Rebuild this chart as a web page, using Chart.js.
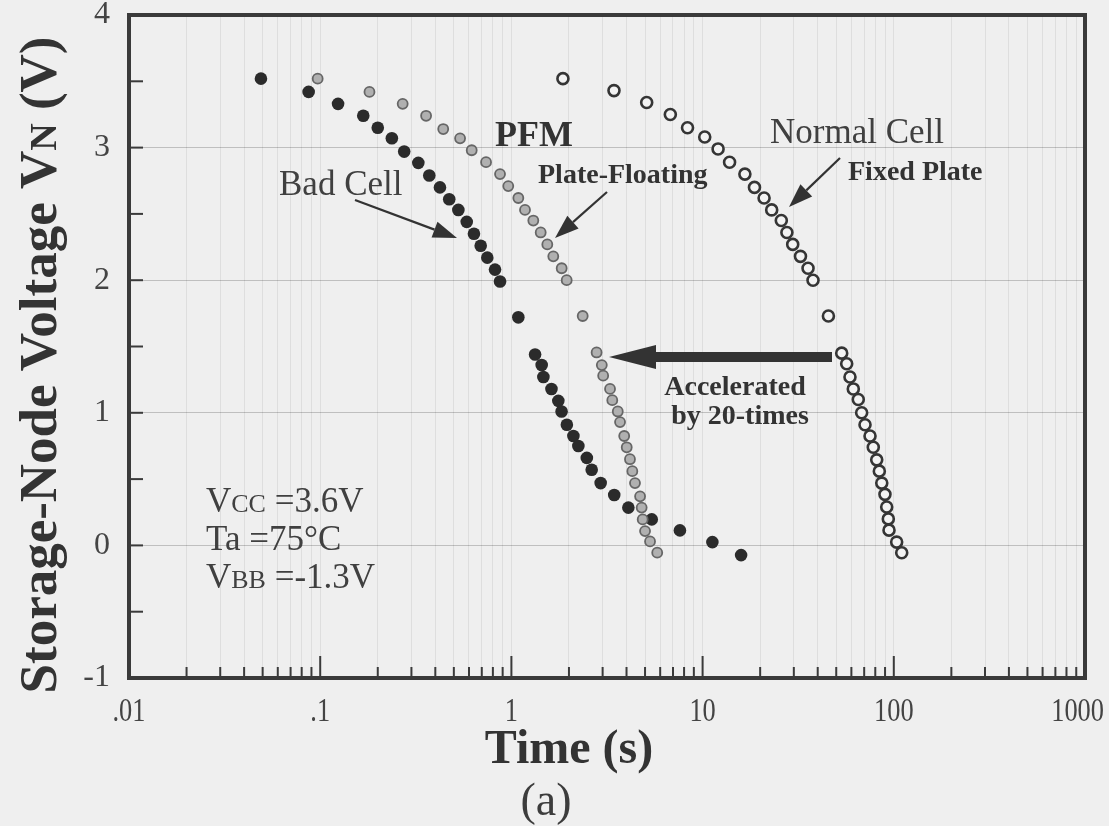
<!DOCTYPE html>
<html><head><meta charset="utf-8">
<script src="https://cdn.jsdelivr.net/npm/chart.js@4.4.1/dist/chart.umd.min.js"></script>
<style>html,body{margin:0;padding:0;background:#efefef;}canvas{display:block;}</style>
</head><body>
<canvas id="c" width="1109" height="826" style="width:1109px;height:826px"></canvas>
<script>
// ---- data (time in s, voltage in V) ----
const badTime = [0.049,0.087,0.124,0.168,0.200,0.237,0.275,0.326,0.372,0.423,0.473,0.528,0.584,0.637,0.691,0.748,0.821,0.872,1.087,
  1.33,1.44,1.47,1.62,1.76,1.83,1.95,2.11,2.24,2.48,2.63,2.93,3.45,4.09,5.42,7.61,11.25,15.9];
const badVolt = [3.52,3.42,3.33,3.24,3.15,3.07,2.97,2.885,2.79,2.70,2.61,2.53,2.44,2.35,2.26,2.17,2.08,1.99,1.72,
  1.44,1.36,1.27,1.18,1.09,1.01,0.91,0.825,0.75,0.66,0.57,0.47,0.38,0.285,0.196,0.113,0.025,-0.073];

const pfmTime = [0.097,0.181,0.270,0.358,0.440,0.539,0.620,0.737,0.872,0.963,1.087,1.178,1.302,1.423,1.541,1.656,1.832,1.946,2.36,
  2.79,2.97,3.02,3.28,3.37,3.60,3.70,3.89,4.01,4.17,4.29,4.43,4.71,4.80,4.86,5.00,5.31,5.79];
const pfmVolt = [3.52,3.42,3.33,3.24,3.14,3.07,2.98,2.89,2.80,2.71,2.62,2.53,2.45,2.36,2.27,2.18,2.09,2.00,1.73,
  1.455,1.36,1.28,1.18,1.095,1.01,0.93,0.825,0.74,0.65,0.56,0.47,0.37,0.285,0.196,0.108,0.03,-0.055];

const normalTime = [1.86,3.44,5.10,6.78,8.34,10.26,12.05,13.84,16.64,18.68,20.97,22.98,25.8,27.6,29.6,32.5,35.6,37.8,45.5,
  53.4,56.7,59.0,61.4,65.2,67.9,70.7,75.1,78.1,81.4,84.0,86.5,89.9,91.8,93.6,94.4,103.5,110.0];
const normalVolt = [3.52,3.43,3.34,3.25,3.15,3.08,2.99,2.89,2.80,2.70,2.62,2.53,2.45,2.36,2.27,2.18,2.09,2.00,1.73,
  1.45,1.37,1.27,1.18,1.10,1.00,0.91,0.825,0.74,0.645,0.56,0.47,0.385,0.29,0.20,0.115,0.025,-0.055];

const xTickValues = [0.01,0.1,1,10,100,1000];
const xTickLabels = ['.01','.1','1','10','100','1000'];
const yTickValues = [-1,0,1,2,3,4];
const yTickLabels = ['-1','0','1','2','3','4'];

const toPts = (xs, ys) => xs.map((x, i) => ({x, y: ys[i]}));
const SERIF = '"Liberation Serif","Times New Roman",serif';
const isDecade = v => Math.abs(Math.log10(v) - Math.round(Math.log10(v))) < 1e-6;

function arrow(ctx, x1, y1, x2, y2, hl, hw) {
  const ang = Math.atan2(y2 - y1, x2 - x1);
  const bx = x2 - hl * Math.cos(ang), by = y2 - hl * Math.sin(ang);
  ctx.beginPath(); ctx.moveTo(x1, y1); ctx.lineTo(bx, by); ctx.stroke();
  ctx.beginPath();
  ctx.moveTo(x2, y2);
  ctx.lineTo(bx + hw / 2 * Math.sin(ang), by - hw / 2 * Math.cos(ang));
  ctx.lineTo(bx - hw / 2 * Math.sin(ang), by + hw / 2 * Math.cos(ang));
  ctx.closePath(); ctx.fill();
}
function txt(ctx, s, x, y, size, bold, align) {
  ctx.font = (bold ? 'bold ' : '') + size + 'px ' + SERIF;
  ctx.textAlign = align || 'left';
  ctx.textBaseline = 'alphabetic';
  ctx.fillText(s, x, y);
}
function runs(ctx, parts, x, y, bold) {
  ctx.textAlign = 'left'; ctx.textBaseline = 'alphabetic';
  for (const [s, size] of parts) {
    ctx.font = (bold ? 'bold ' : '') + size + 'px ' + SERIF;
    ctx.fillText(s, x, y);
    x += ctx.measureText(s).width;
  }
  return x;
}
function runsWidth(ctx, parts, bold) {
  let w = 0;
  for (const [s, size] of parts) { ctx.font = (bold ? 'bold ' : '') + size + 'px ' + SERIF; w += ctx.measureText(s).width; }
  return w;
}

const bgPlugin = {
  id: 'bg',
  beforeDraw(chart) {
    const ctx = chart.ctx;
    ctx.save(); ctx.fillStyle = '#efefef'; ctx.fillRect(0, 0, chart.width, chart.height); ctx.restore();
  }
};

const decoPlugin = {
  id: 'deco',
  afterDraw(chart) {
    const {ctx, chartArea: a, scales: {x, y}} = chart;
    ctx.save();
    ctx.strokeStyle = '#3a3a3a'; ctx.fillStyle = '#3a3a3a';
    // inner tick marks
    ctx.lineWidth = 2;
    x.ticks.forEach(t => {
      const px = x.getPixelForValue(t.value);
      const len = isDecade(t.value) ? 22 : 11;
      ctx.beginPath(); ctx.moveTo(px, a.bottom); ctx.lineTo(px, a.bottom - len); ctx.stroke();
    });
    y.ticks.forEach(t => {
      const py = y.getPixelForValue(t.value);
      ctx.beginPath(); ctx.moveTo(a.left, py); ctx.lineTo(a.left + 14, py); ctx.stroke();
    });
    // frame
    ctx.lineWidth = 4;
    ctx.strokeRect(a.left, a.top, a.right - a.left, a.bottom - a.top);

    // x tick labels (narrow serif), positioned by the x scale
    ctx.fillStyle = '#444';
    ctx.font = '33px ' + SERIF;
    ctx.textAlign = 'center'; ctx.textBaseline = 'alphabetic';
    const sx = 0.8;
    xTickValues.forEach((v, i) => {
      const s = xTickLabels[i];
      const w = ctx.measureText(s).width * sx;
      const cx = Math.min(x.getPixelForValue(v), 1104 - w / 2);
      ctx.save(); ctx.translate(cx, 721); ctx.scale(sx, 1); ctx.fillText(s, 0, 0); ctx.restore();
    });

    // axis titles
    ctx.fillStyle = '#333';
    txt(ctx, 'Time (s)', (a.left + a.right) / 2 - 38, 763, 48, true, 'center');
    ctx.fillStyle = '#3c3c3c';
    txt(ctx, '(a)', 546, 815, 46, false, 'center');
    ctx.fillStyle = '#333';
    const yParts = [['Storage-Node Voltage V', 53], ['N', 38], [' (V)', 53]];
    const w = runsWidth(ctx, yParts, true);
    ctx.save();
    ctx.translate(56, 365);
    ctx.rotate(-Math.PI / 2);
    runs(ctx, yParts, -w / 2, 0, true);
    ctx.restore();

    // annotations
    ctx.fillStyle = '#333';
    txt(ctx, 'PFM', 495, 146, 36, true);
    txt(ctx, 'Plate-Floating', 538, 183, 28, true);
    txt(ctx, 'Fixed Plate', 848, 180, 28, true);
    txt(ctx, 'Accelerated', 735, 395, 28, true, 'center');
    txt(ctx, 'by 20-times', 740, 424, 28, true, 'center');
    ctx.fillStyle = '#404040';
    txt(ctx, 'Bad Cell', 279, 195, 35, false);
    txt(ctx, 'Normal Cell', 770, 143, 35, false);
    runs(ctx, [['V', 35], ['CC', 26], [' =3.6V', 35]], 206, 512, false);
    runs(ctx, [['Ta =75\u00B0C', 35]], 206, 550, false);
    runs(ctx, [['V', 35], ['BB', 26], [' =-1.3V', 35]], 206, 588, false);

    // arrows
    ctx.strokeStyle = '#333'; ctx.fillStyle = '#333'; ctx.lineWidth = 2.2;
    arrow(ctx, 355, 200, 457, 238, 24, 17);
    arrow(ctx, 607, 192, 555, 238, 24, 17);
    arrow(ctx, 840, 158, 789, 207, 24, 17);
    ctx.fillRect(652, 352, 180, 10);
    ctx.beginPath(); ctx.moveTo(609, 357); ctx.lineTo(656, 345); ctx.lineTo(656, 369); ctx.closePath(); ctx.fill();
    ctx.restore();
  }
};

new Chart(document.getElementById('c'), {
  type: 'scatter',
  data: {
    datasets: [
      {label: 'Normal Cell (Fixed Plate)', data: toPts(normalTime, normalVolt), pointRadius: 5.5, pointBorderWidth: 2.6,
        pointBackgroundColor: '#f3f3f3', pointBorderColor: '#353535', showLine: false},
      {label: 'PFM (Plate-Floating)', data: toPts(pfmTime, pfmVolt), pointRadius: 5, pointBorderWidth: 1.8,
        pointBackgroundColor: '#b0b0b0', pointBorderColor: '#666', showLine: false},
      {label: 'Bad Cell', data: toPts(badTime, badVolt), pointRadius: 6.3, pointBorderWidth: 0,
        pointBackgroundColor: '#2b2b2b', pointBorderColor: '#2b2b2b', showLine: false}
    ]
  },
  options: {
    responsive: false, devicePixelRatio: 1, animation: false,
    layout: {padding: {left: 0, top: 15, right: 24, bottom: 0}},
    plugins: {legend: {display: false}, tooltip: {enabled: false}},
    scales: {
      x: {
        type: 'logarithmic', min: 0.01, max: 1000,
        afterBuildTicks(scale) {
          const t = [];
          for (let d = -2; d <= 2; d++) for (let m = 1; m <= 9; m++) t.push({value: +(m * Math.pow(10, d)).toPrecision(6)});
          t.push({value: 1000});
          scale.ticks = t;
        },
        afterFit(scale) { scale.height = 826 - 678; scale.paddingLeft = 0; scale.paddingRight = 0; },
        grid: {drawTicks: false, color: 'rgba(0,0,0,0.07)', lineWidth: 1},
        border: {display: false},
        ticks: {display: false, autoSkip: false}
      },
      y: {
        type: 'linear', min: -1, max: 4,
        ticks: {
          stepSize: 0.5, padding: 19, color: '#444',
          font: {family: SERIF, size: 32},
          callback(v) { const i = yTickValues.indexOf(v); return i >= 0 ? yTickLabels[i] : ''; }
        },
        afterFit(scale) { scale.width = 129; scale.paddingTop = 0; scale.paddingBottom = 0; },
        grid: {drawTicks: false, lineWidth: 1,
          color: c => (Number.isInteger(c.tick.value) && c.tick.value > -1 && c.tick.value < 4) ? 'rgba(0,0,0,0.2)' : 'rgba(0,0,0,0)'},
        border: {display: false}
      }
    }
  },
  plugins: [bgPlugin, decoPlugin]
});
</script>
</body></html>
